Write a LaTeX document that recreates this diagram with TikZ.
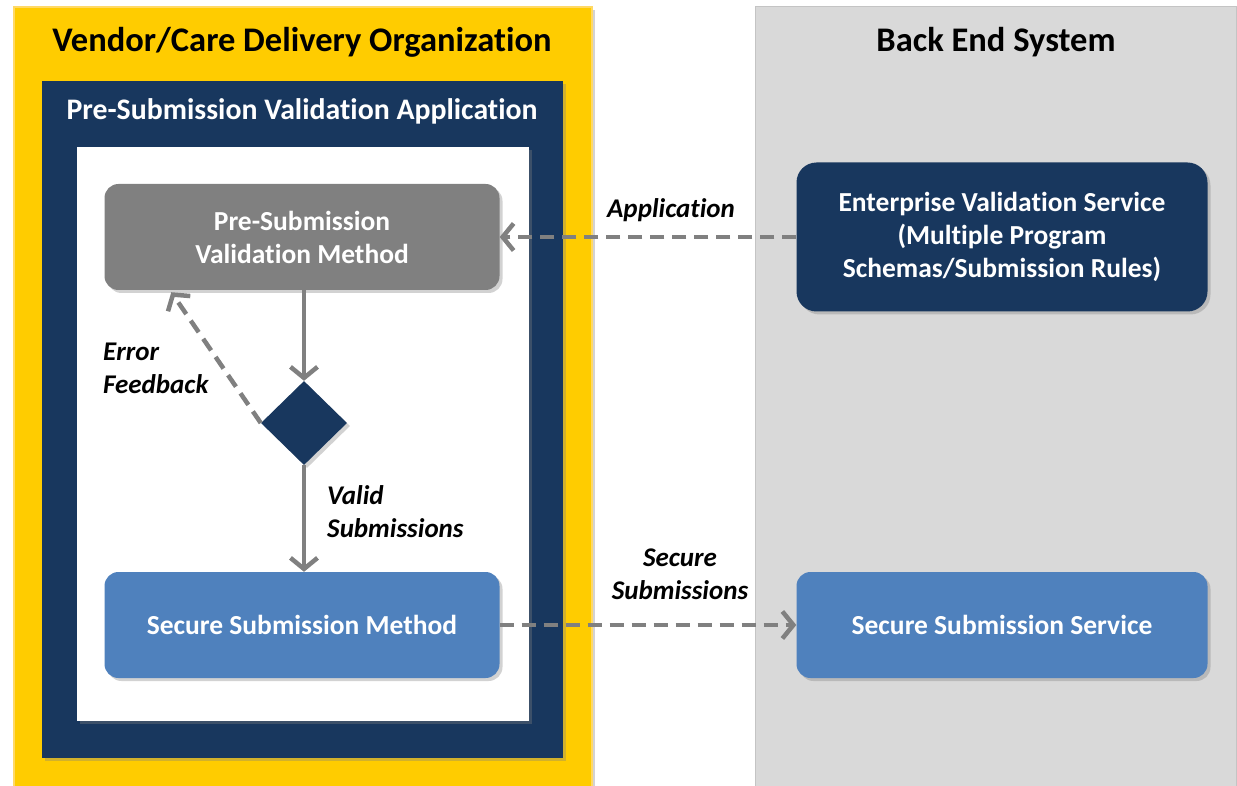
\documentclass[tikz,border=0pt]{standalone}
\usepackage{fontspec}
\setmainfont{Carlito}[Ligatures=NoCommon]
\usetikzlibrary{arrows.meta,shapes.geometric,shadows,calc}
\definecolor{orgyellow}{HTML}{FFCC00}
\definecolor{orgedge}{HTML}{FFD966}
\definecolor{backgray}{HTML}{D9D9D9}
\definecolor{backedge}{HTML}{C4C4C4}
\definecolor{appnavy}{HTML}{18375E}
\definecolor{methodgray}{HTML}{808080}
\definecolor{secureblue}{HTML}{4F81BD}
\definecolor{flowgray}{HTML}{808080}
\newcommand\paneltitle{\fontsize{34.5}{40}\selectfont\bfseries}
\newcommand\apptitletext{\fontsize{29.8}{36}\selectfont\bfseries}
\newcommand\boxtext{\fontsize{27.5}{33}\selectfont\bfseries}
\newcommand\flowtext{\fontsize{27}{33}\selectfont\bfseries\itshape}
\tikzset{
  softshadow/.style={drop shadow={opacity=0.35, shadow xshift=3pt, shadow yshift=-3pt}},
  stepbox/.style={rounded corners=14pt, minimum width=395pt, minimum height=106pt,
    inner sep=0pt, text=white, align=center, font=\boxtext, softshadow},
  flow/.style={draw=flowgray, line width=4.5pt, -{Straight Barb[length=11pt,width=27pt]}},
  dashflow/.style={flow, dash pattern=on 14pt off 8pt},
  flowlabel/.style={font=\flowtext, inner sep=0pt}
}
\begin{document}
\begin{tikzpicture}[x=1pt, y=-1pt]
      \useasboundingbox (0,0) rectangle (1237,786);
      \clip (0,0) rectangle (1237,786);
      % panels
      \draw [fill=orgyellow, draw=orgedge, line width=1.5pt, softshadow] (14,7) rectangle (592,795);
      \draw [fill=backgray, draw=backedge, line width=1pt] (755,7) rectangle (1236,795);
      \node [font=\paneltitle] (vendortitle) at (302,42) {Vendor/Care Delivery Organization};
      \node [font=\paneltitle] (backtitle) at (996,42) {Back End System};
      \fill [appnavy, softshadow] (42,81) rectangle (563,758);
      \node [font=\apptitletext, text=white] (apptitle) at (302,111)
        {Pre-Submission Validation Application};
      \fill [white, softshadow] (77,147) rectangle (529,721);
      % steps
      \node [stepbox, fill=methodgray] (validate) at (302,237) {Pre-Submission\\Validation Method};
      \node [diamond, fill=appnavy, inner sep=0pt, minimum width=86pt, minimum height=84pt,
        softshadow] (check) at (304,423) {};
      \node [stepbox, fill=secureblue] (submit) at (302,625) {Secure Submission Method};
      \node [stepbox, fill=appnavy, minimum width=411pt, minimum height=149pt,
        rounded corners=20pt] (rules) at (1002,237)
        {Enterprise Validation Service\\(Multiple Program\\Schemas/Submission Rules)};
      \node [stepbox, fill=secureblue, minimum width=411pt] (service) at (1002,625)
        {Secure Submission Service};
      % flows
      \draw [flow] (validate.south -| check) -- (check.north);
      \draw [flow] (check.south) -- (submit.north -| check);
      \draw [dashflow] (check.west) -- ($(validate.south west)+(67,2)$);
      \draw [dashflow] (rules.west) -- (validate.east);
      \draw [dashflow] (submit.east) -- (service.west);
      \node [flowlabel] (applabel) at (671,210) {Application};
      \node [flowlabel, anchor=west, align=left] (errlabel) at (103,368) {Error\\Feedback};
      \node [flowlabel, anchor=west, align=left] (validlabel) at (327,512) {Valid\\Submissions};
      \node [flowlabel, align=center] (securelabel) at (680,574) {Secure\\Submissions};
    \end{tikzpicture}
\end{document}
